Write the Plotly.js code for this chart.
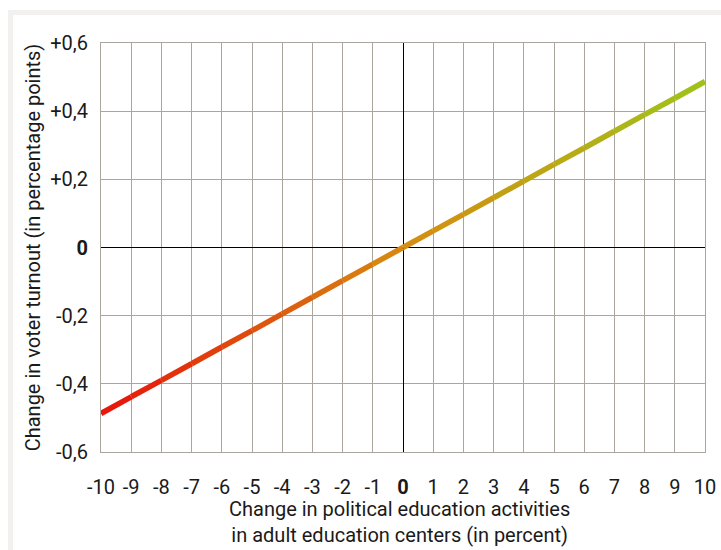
<!DOCTYPE html>
<html>
<head>
<meta charset="utf-8">
<script src="https://cdn.plot.ly/plotly-3.0.1.min.js"></script>
<style>
  html, body { margin: 0; padding: 0; background: #ffffff; }
  #frame { position: absolute; left: 8px; top: 10px; width: 713px; height: 540px;
           border-left: 5px solid #f2f1ef; border-top: 5px solid #f2f1ef; box-sizing: border-box; }
  #chart { position: absolute; left: 0; top: 0; width: 721px; height: 550px; }
</style>
</head>
<body>
<div id="frame"></div>
<div id="chart"></div>
<script>
// Data
const xValues = [-10, -9, -8, -7, -6, -5, -4, -3, -2, -1, 0, 1, 2, 3, 4, 5, 6, 7, 8, 9, 10];
const yValues = [-0.487, -0.438, -0.390, -0.341, -0.292, -0.244, -0.195, -0.146, -0.097, -0.049, 0.000,
                 0.049, 0.097, 0.146, 0.195, 0.244, 0.292, 0.341, 0.390, 0.438, 0.487];
const xTickVals = [-10, -9, -8, -7, -6, -5, -4, -3, -2, -1, 0, 1, 2, 3, 4, 5, 6, 7, 8, 9, 10];
const xTickText = ["-10", "-9", "-8", "-7", "-6", "-5", "-4", "-3", "-2", "-1", "<b>0</b>",
                   "1", "2", "3", "4", "5", "6", "7", "8", "9", "10"];
const yTickVals = [-0.6, -0.4, -0.2, 0, 0.2, 0.4, 0.6];
const yTickText = ["-0,6", "-0,4", "-0,2", "<b>0</b>", "+0,2", "+0,4", "+0,6"];
const xTitle = 'Change in political education activities<br>in adult education centers (in percent)';
const yTitle = 'Change in voter turnout (in percentage points)';

// Gradient colour stops (style)
const stops = [[0, [232, 18, 12]], [0.5, [214, 140, 16]], [1, [158, 196, 26]]];
function colorAt(t) {
  for (let i = 0; i < stops.length - 1; i++) {
    const [t0, c0] = stops[i], [t1, c1] = stops[i + 1];
    if (t <= t1) {
      const f = (t - t0) / (t1 - t0);
      const c = c0.map((v, k) => Math.round(v + (c1[k] - v) * f));
      return `rgb(${c[0]},${c[1]},${c[2]})`;
    }
  }
  const c = stops[stops.length - 1][1];
  return `rgb(${c[0]},${c[1]},${c[2]})`;
}

const traces = [];
const n = xValues.length;
for (let i = 0; i < n - 1; i++) {
  const t = (i + 0.5) / (n - 1);
  traces.push({
    x: [xValues[i], xValues[i + 1]],
    y: [yValues[i], yValues[i + 1]],
    type: 'scatter',
    mode: 'lines',
    line: { color: colorAt(t), width: 5.5 },
    hoverinfo: 'skip',
    showlegend: false
  });
}

const fam = 'Roboto, "DejaVu Sans", sans-serif';
const txt = '#1a1a1a';
const grid = '#aaa69e';

const layout = {
  width: 721, height: 550,
  margin: { l: 101, r: 16, t: 43, b: 98 },
  paper_bgcolor: 'rgba(0,0,0,0)',
  plot_bgcolor: '#ffffff',
  font: { family: fam, size: 20, color: txt },
  showlegend: false,
  xaxis: {
    range: [-10, 10],
    tickvals: xTickVals, ticktext: xTickText,
    showgrid: true, gridcolor: grid, gridwidth: 1,
    zeroline: true, zerolinecolor: '#000000', zerolinewidth: 1,
    showline: true, linecolor: grid, linewidth: 1, mirror: true,
    ticks: '', ticklabelstandoff: 17,
    tickfont: { family: fam, size: 20, color: txt },
    fixedrange: true
  },
  yaxis: {
    range: [-0.6, 0.6],
    tickvals: yTickVals, ticktext: yTickText,
    showgrid: true, gridcolor: grid, gridwidth: 1,
    zeroline: true, zerolinecolor: '#000000', zerolinewidth: 1,
    showline: true, linecolor: grid, linewidth: 1, mirror: true,
    ticks: '', ticklabelstandoff: 8,
    tickfont: { family: fam, size: 20, color: txt },
    fixedrange: true,
    title: { text: yTitle, font: { family: fam, size: 20, color: txt }, standoff: 4 }
  },
  annotations: [{
    text: xTitle, xref: 'paper', yref: 'paper', x: 0.495, y: -0.105,
    xanchor: 'center', yanchor: 'top', showarrow: false, align: 'center',
    font: { family: fam, size: 20, color: txt }
  }]
};

Plotly.newPlot('chart', traces, layout, { displayModeBar: false, staticPlot: true });
</script>
</body>
</html>
